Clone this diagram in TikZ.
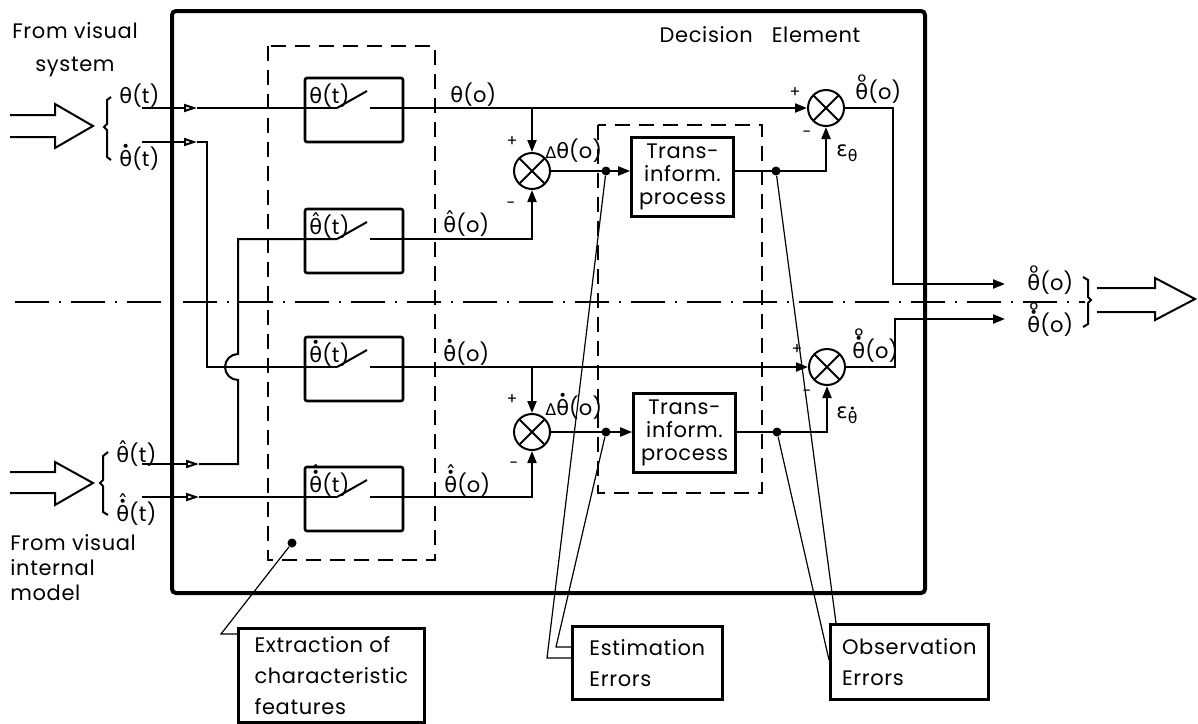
\documentclass[tikz,border=0pt]{standalone}
\usepackage{fontspec}
\setmainfont{Poppins}[LetterSpace=3]
\newfontfamily\labf{Poppins}[LetterSpace=1]
\newfontfamily\grk{DejaVu Sans}
\usetikzlibrary{arrows.meta}
\newcommand{\gth}{{\grk θ}}
\newcommand{\ovr}[2]{\ooalign{#1\cr\hidewidth#2\hidewidth\cr}}
\newcommand{\ovrr}[3]{\ooalign{#1\cr\hidewidth#2\hidewidth\cr\hidewidth#3\hidewidth\cr}}
\newcommand{\dotac}[1]{\raisebox{#1}{\fontsize{7}{7}\selectfont\grk •}}
\newcommand{\ringac}[1]{\raisebox{#1}{\fontsize{10.5}{10.5}\selectfont\labf °}}
\newcommand{\hatac}[1]{\raisebox{#1}{\grk ˆ}}
\newcommand{\ThD}{\ovr{\gth}{\dotac{7.2pt}}}
\newcommand{\ThH}{\ovr{\gth}{\hatac{2.5pt}}}
\newcommand{\ThHD}{\ovrr{\gth}{\dotac{7.2pt}}{\hatac{5.5pt}}}
\newcommand{\ThR}{\ovr{\gth}{\ringac{4.6pt}}}
\newcommand{\ThRD}{\ovrr{\gth}{\dotac{7.2pt}}{\ringac{7.4pt}}}
\newcommand{\Dl}{{\fontsize{8}{8}\selectfont\grk Δ}}
\tikzset{
  conn/.style={line width=1pt},
  leader/.style={line width=0.6pt},
  arr/.style={-{Triangle[length=6pt,width=4.5pt]}},
  oarr/.style={-{Triangle[open,length=6.5pt,width=4pt]}},
  sbox/.style={draw, line width=1.3pt, rounded corners=1pt, minimum width=49pt, minimum height=32pt, inner sep=0pt},
  tbox/.style={draw, line width=1.3pt, align=center, inner sep=0pt, minimum width=51pt, minimum height=39.5pt, font=\fontsize{10.5}{11.5}\selectfont},
  lbox/.style={draw, line width=1.3pt, align=left, anchor=north west, inner xsep=4.5pt, inner ysep=0pt, font=\fontsize{10.5}{15.5}\selectfont},
  dbox/.style={line width=1pt, dash pattern=on 7.5pt off 4.5pt},
  summer/.style={circle, draw, line width=1pt, minimum size=18pt, inner sep=0pt,
    path picture={\draw[line width=1pt] (path picture bounding box.north west) -- (path picture bounding box.south east)
      (path picture bounding box.north east) -- (path picture bounding box.south west);}},
  jdot/.style={circle, fill, inner sep=0pt, minimum size=4.5pt},
  lab/.style={anchor=base west, inner sep=0pt, font=\fontsize{10.5}{12}\selectfont\labf},
  sig/.style={inner sep=0pt, font=\fontsize{8}{8}\selectfont},
}
\begin{document}
\begin{tikzpicture}[x=0.5pt,y=-0.5pt]
\useasboundingbox (0,0) rectangle (1198,723);
% dash-dot axis
\coordinate (dd1) at (15,302); \coordinate (dd2) at (1085,302);
\draw[line width=0.8pt, dash pattern=on 17pt off 5pt on 1pt off 5pt] (dd1) -- (dd2);
% outer decision element
\draw[line width=2pt, rounded corners=2pt] (172,11) rectangle (925,593);
\node[font=\fontsize{10.5}{12}\selectfont, inner sep=0pt] (de) at (760,35) {Decision\hspace{0.9em}Element};
% dashed groups
\draw[dbox] (268,46) rectangle (435,560);
\draw[dbox] (598,125) rectangle (762,493);
% switch boxes
\node[sbox] (sw1) at (354,110) {};
\node[sbox] (sw2) at (354,241) {};
\node[sbox] (sw3) at (354,369) {};
\node[sbox] (sw4) at (354,499) {};
\foreach \n/\r in {1/108,2/239,3/367,4/497}{
  \coordinate (sw\n a) at (337,\r);
  \coordinate (sw\n b) at (367,\r-17);
  \coordinate (sw\n c) at (370,\r);
  \draw[conn] (sw\n a) -- (sw\n b);
}
\node[lab] (l1) at (309,103) {\gth(t)};
\node[lab] (l2) at (309,234) {\ThH(t)};
\node[lab] (l3) at (309,362) {\ThD(t)};
\node[lab] (l4) at (309,492) {\ThHD(t)};
% summers
\node[summer] (S1) at (532,171) {};
\node[summer] (S2) at (532,432) {};
\node[summer] (S3) at (826,108) {};
\node[summer] (S4) at (827,367) {};
% trans-inform boxes
\node[tbox] (T1) at (682.5,177) {Trans-\\inform.\\process};
\node[tbox] (T2) at (684.5,433) {Trans-\\inform.\\process};
% inputs
\coordinate (i1) at (142,108); \coordinate (i1a) at (197,108);
\draw[conn,oarr] (i1) -- (i1a); \draw[conn] (i1a) -- (sw1a);
\coordinate (i2) at (142,142); \coordinate (i2a) at (197,142);
\coordinate (i2b) at (207,142); \coordinate (i2c) at (207,367);
\draw[conn,oarr] (i2) -- (i2a); \draw[conn] (i2a) -- (i2b) -- (i2c) -- (sw3a);
\coordinate (i3) at (142,464); \coordinate (i3a) at (199,464);
\coordinate (i3b) at (238,464); \coordinate (hop1) at (238,380);
\coordinate (i3c) at (238,239);
\draw[conn,oarr] (i3) -- (i3a);
\draw[conn] (i3a) -- (i3b) -- (hop1) arc[start angle=270,end angle=90,radius=6.5pt] -- (i3c) -- (sw2a);
\coordinate (i4) at (142,497); \coordinate (i4a) at (199,497);
\draw[conn,oarr] (i4) -- (i4a); \draw[conn] (i4a) -- (sw4a);
% rows
\coordinate (b1) at (532,108); \coordinate (b2) at (532,239);
\coordinate (b3) at (532,367); \coordinate (b4) at (532,497);
\draw[conn,arr] (sw1c) -- (S3.west);
\draw[conn,arr] (b1) -- (S1.north);
\draw[conn,arr] (sw2c) -- (b2) -- (S1.south);
\draw[conn,arr] (sw3c) -- (S4.west);
\draw[conn,arr] (b3) -- (S2.north);
\draw[conn,arr] (sw4c) -- (b4) -- (S2.south);
% to / from trans
\draw[conn,arr] (S1.east) -- (S1.east -| T1.west);
\draw[conn,arr] (S2.east) -- (S2.east -| T2.west);
\coordinate (c1) at (826,171); \coordinate (c2) at (827,432);
\draw[conn,arr] (T1.east |- S1) -- (c1) -- (S3.south);
\draw[conn,arr] (T2.east |- S2) -- (c2) -- (S4.south);
% outputs
\coordinate (o1a) at (893,108); \coordinate (o1b) at (893,284); \coordinate (o1c) at (1005,284);
\coordinate (o2a) at (895,367); \coordinate (o2b) at (895,319); \coordinate (o2c) at (1005,319);
\draw[conn,arr] (S3.east) -- (o1a) -- (o1b) -- (o1c);
\draw[conn,arr] (S4.east) -- (o2a) -- (o2b) -- (o2c);
% dots
\node[jdot] (d1) at (606,171) {};
\node[jdot] (d2) at (776,171) {};
\node[jdot] (d3) at (606,432) {};
\node[jdot] (d4) at (777,432) {};
\node[jdot] (d5) at (292,543) {};
% row labels
\node[lab] (r1) at (450,102) {\gth(o)};
\node[lab] (r2) at (443,232) {\ThH(o)};
\node[lab] (r3) at (443,361) {\ThD(o)};
\node[lab] (r4) at (444,492) {\ThHD(o)};
\node[lab] (dl1) at (545,158) {\Dl\gth(o)};
\node[lab] (dl2) at (545,415) {\Dl\ThD(o)};
\node[lab] (ol1) at (855,99) {\ThR(o)};
\node[lab] (ol2) at (852,358) {\ThRD(o)};
\node[lab] (eps1) at (836,156) {{\grk ε}\raisebox{-2.5pt}{\scalebox{0.75}{\gth}}};
\node[lab] (eps2) at (836,418) {{\grk ε}\raisebox{-2.5pt}{\scalebox{0.75}{\ThD}}};
% signs
\node[sig] (p1) at (512,142) {+}; \node[sig] (m1) at (511,205) {-};
\node[sig] (p2) at (512,400) {+}; \node[sig] (m2) at (514,465) {-};
\node[sig] (p3) at (795,93) {+};  \node[sig] (m3) at (807,134) {-};
\node[sig] (p4) at (797,350) {+}; \node[sig] (m4) at (807,393) {-};
% input labels
\node[lab] (il1) at (119,103) {\gth(t)};
\node[lab] (il2) at (119,166) {\ThD(t)};
\node[lab] (il3) at (116,462) {\ThH(t)};
\node[lab] (il4) at (116,521) {\ThHD(t)};
% brackets
\draw[conn] (111,97) -- (107,100) -- (107,124) -- (104,127) -- (107,130) -- (107,157) -- (111,160);
\draw[conn] (108,452) -- (103,456) -- (103,480) -- (100,483) -- (103,486) -- (103,512) -- (108,515);
\draw[conn] (1083,277) -- (1088,280) -- (1088,297) -- (1091,300) -- (1088,303) -- (1088,324) -- (1083,327);
\node[lab] (rl1) at (1027,290) {\ThR(o)};
\node[lab] (rl2) at (1027,332) {\ThRD(o)};
% big hollow arrows
\draw[conn] (10,115) -- (55,115) -- (55,104) -- (93,126) -- (55,148) -- (55,137) -- (10,137);
\draw[conn] (10,472) -- (55,472) -- (55,462) -- (93,483) -- (55,505) -- (55,493) -- (10,493);
\draw[conn] (1097,288) -- (1155,288) -- (1155,278) -- (1195,299) -- (1155,320) -- (1155,312) -- (1097,312);
% source texts
\node[align=center, inner sep=0pt, font=\fontsize{10.5}{16.5}\selectfont] (src1) at (75,50) {From visual\\system};
\node[align=left, inner sep=0pt, anchor=west, font=\fontsize{10.5}{12.5}\selectfont] (src2) at (10,568) {From visual\\internal\\model};
% annotation boxes
\node[lbox, minimum width=93pt, minimum height=47pt] (ext) at (237,627) {Extraction of\\characteristic\\features};
\node[lbox, minimum width=75pt, minimum height=36.5pt] (est) at (571,625) {Estimation\\Errors};
\node[lbox, minimum width=79pt, minimum height=37.5pt] (obs) at (829,623) {Observation\\Errors};
% leaders
\coordinate (x1) at (221,634);
\draw[leader] (d5) -- (x1) -- (x1 -| ext.west);
\coordinate (e1) at (547,658); \coordinate (e2) at (556,647);
\draw[leader] (d1) -- (e1) -- (e1 -| est.west);
\draw[leader] (d3) -- (e2) -- (e2 -| est.west);
\coordinate (ob1) at (836,623); \coordinate (ob2) at (829,660);
\draw[leader] (d2) -- (ob1);
\draw[leader] (d4) -- (ob2);
\end{tikzpicture}
\end{document}
